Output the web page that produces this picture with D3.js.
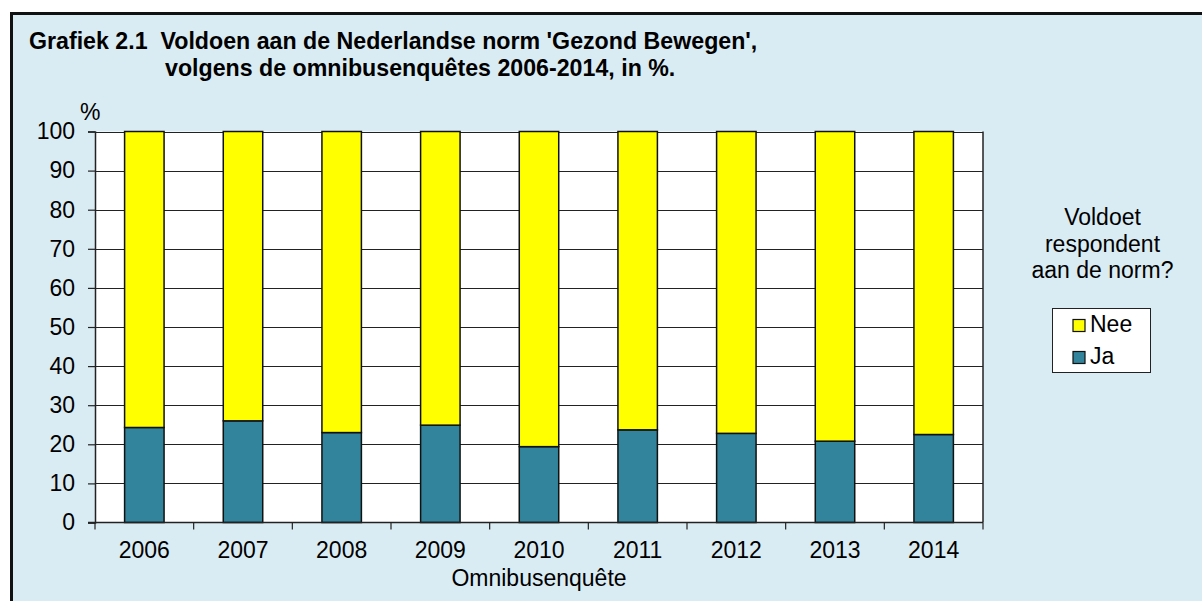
<!DOCTYPE html>
<html>
<head>
<meta charset="utf-8">
<script src="https://cdn.jsdelivr.net/npm/d3@7"></script>
<style>
html,body{margin:0;padding:0;background:#fff;}
svg{display:block;font-family:Arial,"Liberation Sans",sans-serif;}
</style>
</head>
<body>
<svg id="chart" width="1202" height="601"></svg>
<script>
const years = ["2006","2007","2008","2009","2010","2011","2012","2013","2014"];
const ja = [24.3, 26.0, 23.0, 24.9, 19.4, 23.7, 22.8, 20.8, 22.5];
const nee = ja.map(v => 100 - v);
const yTicks = [0,10,20,30,40,50,60,70,80,90,100];
const seriesNames = ["Ja","Nee"];
const seriesColors = ["#31849B","#FFFF00"];

const FS = 23;
const svg = d3.select("#chart");
// frame
svg.append("rect").attr("x",11.5).attr("y",13.5).attr("width",1260).attr("height",700)
  .attr("fill","#DAECF3").attr("stroke","#111").attr("stroke-width",3);

// title
const title = svg.append("text").attr("font-weight","bold").attr("font-size",23.2).attr("fill","#000")
  .style("white-space","pre");
title.append("tspan").attr("x",29).attr("y",49).text("Grafiek 2.1  Voldoen aan de Nederlandse norm 'Gezond Bewegen',");
title.append("tspan").attr("x",165).attr("y",76).text("volgens de omnibusenquêtes 2006-2014, in %.");

const m = {left:95, right:983, top:131.5, bottom:522.5};
const x = d3.scaleBand().domain(years).range([m.left,m.right]).paddingInner(0.6).paddingOuter(0.3);
const y = d3.scaleLinear().domain([0,100]).range([m.bottom,m.top]);

// plot area
svg.append("rect").attr("x",m.left).attr("y",m.top).attr("width",m.right-m.left).attr("height",m.bottom-m.top)
  .attr("fill","#fff");

// gridlines
svg.append("g").selectAll("line").data(yTicks.filter(d=>d>0)).join("line")
  .attr("x1",m.left).attr("x2",m.right).attr("y1",d=>Math.round(y(d))+0.5).attr("y2",d=>Math.round(y(d))+0.5)
  .attr("stroke","#222").attr("stroke-width",1.2);
svg.append("line").attr("x1",m.right).attr("x2",m.right).attr("y1",m.top).attr("y2",m.bottom)
  .attr("stroke","#222").attr("stroke-width",1.5);

// stacked bars
const stackData = years.map((yr,i)=>({year:yr, Ja:ja[i], Nee:nee[i]}));
const stack = d3.stack().keys(seriesNames)(stackData);
svg.append("g").selectAll("g").data(stack).join("g")
  .attr("fill",(d,i)=>seriesColors[i])
  .selectAll("rect").data(d=>d).join("rect")
  .attr("x",d=>x(d.data.year)).attr("width",x.bandwidth())
  .attr("y",d=>y(d[1])).attr("height",d=>y(d[0])-y(d[1]))
  .attr("stroke","#111").attr("stroke-width",1.5);

// y axis
const yAxis = d3.axisLeft(y).tickValues(yTicks).tickSize(7).tickPadding(13);
const gy = svg.append("g").attr("transform",`translate(${m.left},0)`).call(yAxis);
gy.select(".domain").attr("stroke","#222").attr("stroke-width",1.5);
gy.selectAll(".tick line").attr("stroke","#222").attr("stroke-width",1.2);
gy.selectAll("text").attr("font-size",FS).attr("fill","#000").attr("font-family","Arial,'Liberation Sans',sans-serif");

// x axis with boundary ticks
const gx = svg.append("g").attr("transform",`translate(0,${m.bottom})`);
gx.append("line").attr("x1",m.left-7).attr("x2",m.right).attr("y1",0).attr("y2",0).attr("stroke","#222").attr("stroke-width",1.5);
const bounds = d3.range(years.length+1).map(i=>m.left + i*(m.right-m.left)/years.length);
gx.selectAll(".bt").data(bounds).join("line").attr("class","bt")
  .attr("x1",d=>d).attr("x2",d=>d).attr("y1",0).attr("y2",7).attr("stroke","#222").attr("stroke-width",1.2);
gx.selectAll(".yl").data(years).join("text").attr("class","yl")
  .attr("x",d=>x(d)+x.bandwidth()/2).attr("y",35.5).attr("text-anchor","middle")
  .attr("font-size",FS).attr("fill","#000").text(d=>d);

// axis titles
svg.append("text").attr("x",539).attr("y",586).attr("text-anchor","middle").attr("font-size",FS).text("Omnibusenquête");
svg.append("text").attr("x",80).attr("y",120).attr("font-size",FS).text("%");

// legend
const lt = svg.append("text").attr("text-anchor","middle").attr("font-size",FS).attr("fill","#000");
["Voldoet","respondent","aan de norm?"].forEach((t,i)=>{
  lt.append("tspan").attr("x",1102.5).attr("y",225+i*26.5).text(t);
});
svg.append("rect").attr("x",1052.5).attr("y",308.5).attr("width",98).attr("height",64)
  .attr("fill","#fff").attr("stroke","#222").attr("stroke-width",1);
const legItems = [{name:"Nee",color:seriesColors[1]},{name:"Ja",color:seriesColors[0]}];
const lg = svg.append("g").selectAll("g").data(legItems).join("g")
  .attr("transform",(d,i)=>`translate(1073,${319.5+i*32})`);
lg.append("rect").attr("width",12).attr("height",12).attr("fill",d=>d.color).attr("stroke","#111").attr("stroke-width",1.2);
lg.append("text").attr("x",17).attr("y",12.5).attr("font-size",FS).text(d=>d.name);
</script>
</body>
</html>
